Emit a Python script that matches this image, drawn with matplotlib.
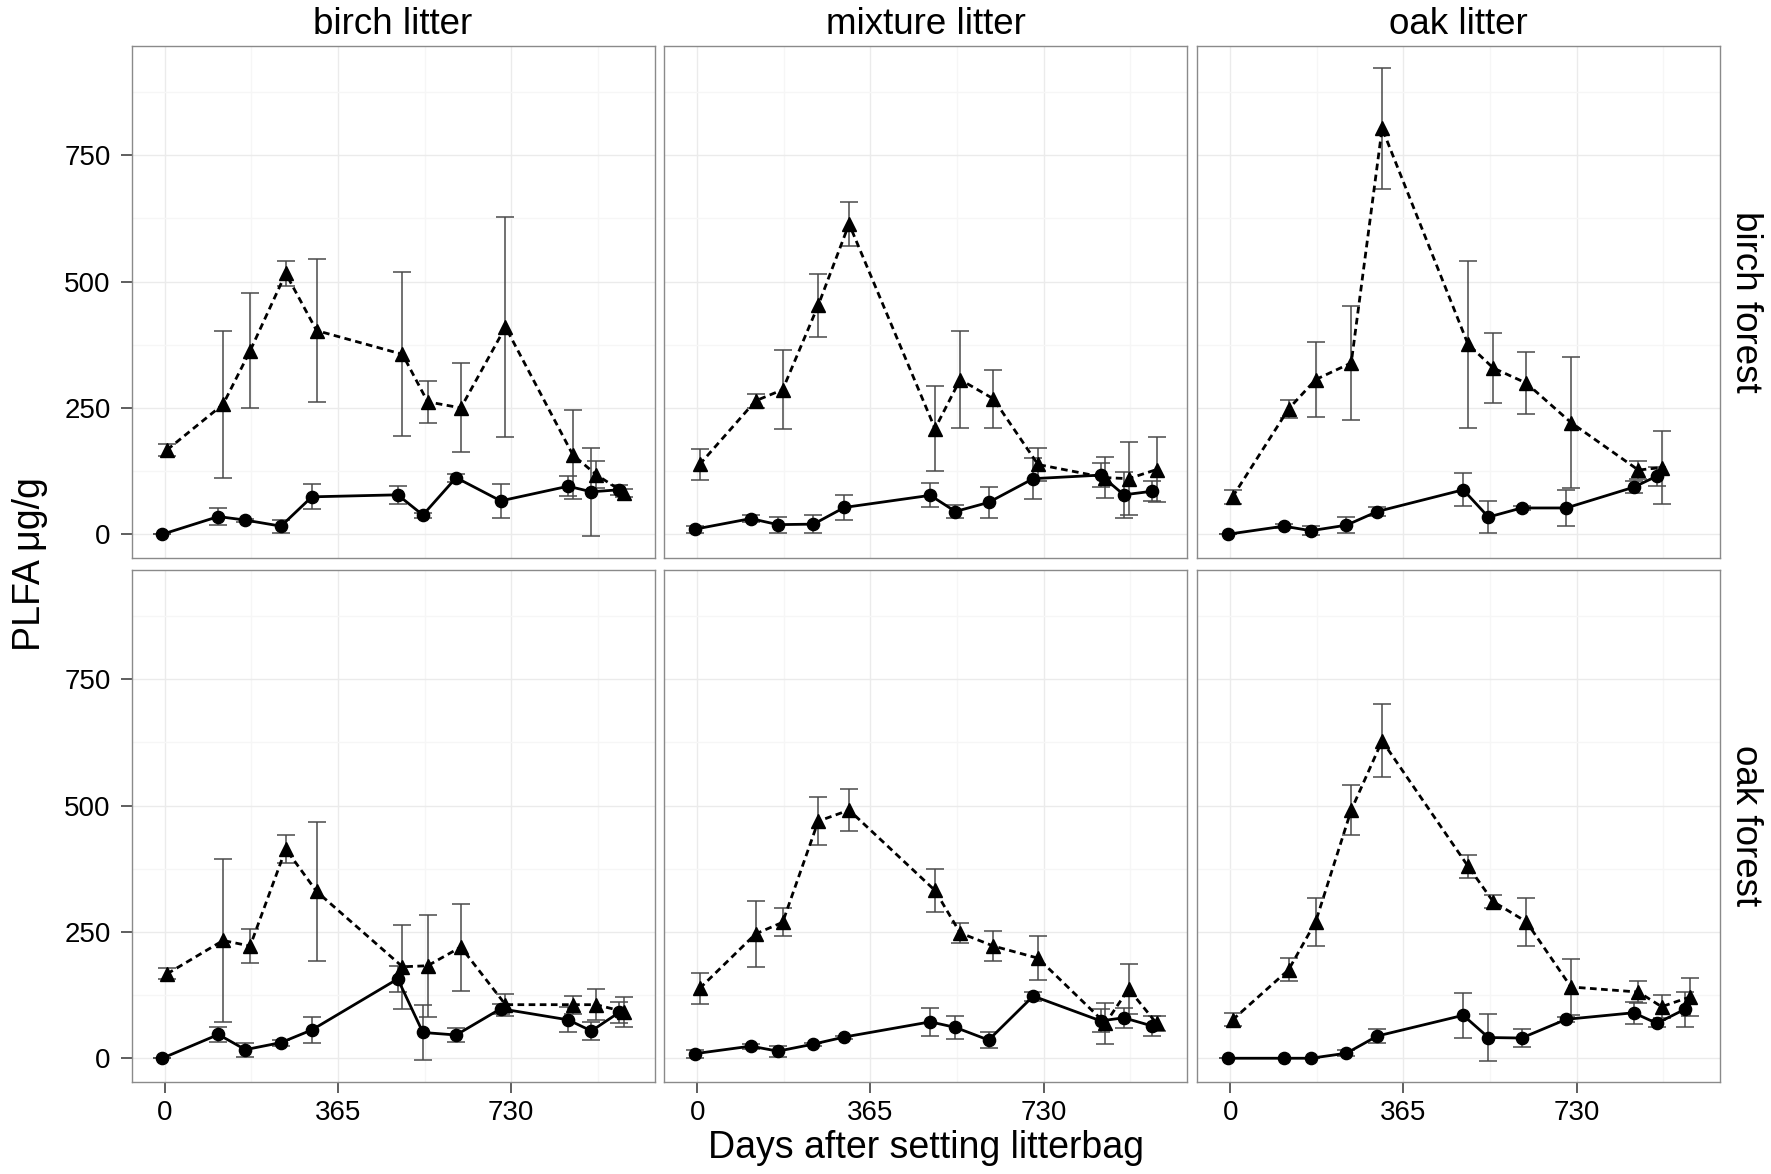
import numpy as np
import matplotlib.pyplot as plt

plt.rcParams["font.family"] = ["Liberation Sans", "DejaVu Sans"]

# sampling days (same for every panel, oak litter in birch forest misses the last one)
days = [0, 118, 175, 250, 315, 496, 549, 619, 713, 855, 904, 963]
litters = ["birch litter", "mixture litter", "oak litter"]
forests = ["birch forest", "oak forest"]

# birch forest, birch litter
bf_birch_circ = [0, 35, 28, 16, 74, 78, 38, 112, 66, 95, 84, 88]
bf_birch_circ_se = [0, 17, 3, 13, 25, 18, 5, 8, 34, 20, 87, 10]
bf_birch_tri = [167, 257, 363, 516, 403, 356, 262, 250, 410, 157, 118, 82]
bf_birch_tri_se = [12, 145, 114, 25, 141, 162, 42, 88, 217, 88, 27, 8]

# birch forest, mixture litter
bf_mix_circ = [10, 31, 19, 20, 53, 77, 45, 63, 110, 117, 78, 85]
bf_mix_circ_se = [7, 7, 16, 18, 25, 24, 13, 30, 40, 23, 45, 20]
bf_mix_tri = [138, 264, 286, 453, 614, 209, 306, 268, 138, 112, 110, 128]
bf_mix_tri_se = [30, 14, 78, 62, 44, 84, 96, 57, 32, 40, 72, 65]

# birch forest, oak litter
bf_oak_circ = [0, 16, 7, 18, 45, 88, 34, 52, 52, 93, 115]
bf_oak_circ_se = [0, 4, 9, 16, 9, 33, 31, 4, 36, 12, 19]
bf_oak_tri = [74, 248, 306, 339, 803, 376, 329, 299, 221, 127, 132]
bf_oak_tri_se = [14, 18, 74, 113, 120, 165, 70, 61, 129, 18, 73]

# oak forest, birch litter
of_birch_circ = [0, 47, 17, 31, 56, 157, 51, 46, 98, 76, 54, 91]
of_birch_circ_se = [0, 15, 14, 6, 25, 25, 55, 13, 10, 25, 17, 21]
of_birch_tri = [167, 233, 222, 414, 330, 181, 183, 220, 106, 106, 106, 92]
of_birch_tri_se = [11, 161, 33, 28, 137, 83, 101, 86, 22, 18, 31, 30]

# oak forest, mixture litter
of_mix_circ = [9, 24, 14, 28, 42, 72, 61, 36, 123, 74, 80, 64]
of_mix_circ_se = [8, 5, 11, 3, 3, 27, 23, 15, 9, 23, 20, 20]
of_mix_tri = [138, 246, 269, 469, 491, 332, 248, 222, 198, 69, 137, 69]
of_mix_tri_se = [30, 66, 28, 47, 42, 42, 20, 30, 44, 40, 50, 15]

# oak forest, oak litter
of_oak_circ = [0, 0, 0, 10, 44, 85, 41, 40, 77, 90, 69, 97]
of_oak_circ_se = [0, 0, 0, 6, 13, 44, 47, 17, 5, 22, 7, 35]
of_oak_tri = [76, 175, 270, 491, 628, 380, 310, 270, 141, 131, 102, 121]
of_oak_tri_se = [13, 23, 47, 50, 72, 23, 12, 48, 55, 22, 23, 38]

panels = [
    [(bf_birch_circ, bf_birch_circ_se, bf_birch_tri, bf_birch_tri_se),
     (bf_mix_circ, bf_mix_circ_se, bf_mix_tri, bf_mix_tri_se),
     (bf_oak_circ, bf_oak_circ_se, bf_oak_tri, bf_oak_tri_se)],
    [(of_birch_circ, of_birch_circ_se, of_birch_tri, of_birch_tri_se),
     (of_mix_circ, of_mix_circ_se, of_mix_tri, of_mix_tri_se),
     (of_oak_circ, of_oak_circ_se, of_oak_tri, of_oak_tri_se)],
]

W, H = 1771, 1174
fig = plt.figure(figsize=(W / 100, H / 100), dpi=100)

col_left = [131.5, 664, 1197]
row_top = [46, 570]
pw, ph = 523, 512
dodge = 5
err_col = "#4a4a4a"

for r in range(2):
    for c in range(3):
        ax = fig.add_axes([col_left[c] / W, 1 - (row_top[r] + ph) / H, pw / W, ph / H])
        circ, circ_se, tri, tri_se = panels[r][c]
        d = np.array(days[:len(circ)])

        ax.errorbar(d - dodge, circ, yerr=circ_se, fmt="none", ecolor=err_col,
                    elinewidth=1.1, capsize=6.7, capthick=1.1, zorder=2)
        ax.errorbar(d + dodge, tri, yerr=tri_se, fmt="none", ecolor=err_col,
                    elinewidth=1.1, capsize=6.7, capthick=1.1, zorder=2)
        ax.plot(d - dodge, circ, "-", color="black", lw=2, zorder=3)
        ax.plot(d + dodge, tri, color="black", lw=2, linestyle=(0, (2.4, 1.6)), zorder=3)
        ax.plot(d - dodge, circ, "o", color="black", ms=8.8, zorder=4)
        ax.plot(d + dodge, tri, "^", color="black", ms=10.5, zorder=4)

        ax.set_xlim(-70, 1032)
        ax.set_ylim(-47, 966)
        ax.set_xticks([0, 365, 730])
        ax.set_xticks([182.5, 547.5, 912.5], minor=True)
        ax.set_yticks([0, 250, 500, 750])
        ax.set_yticks([125, 375, 625, 875], minor=True)
        ax.grid(which="major", color="#EBEBEB", lw=1.0, zorder=0)
        ax.grid(which="minor", color="#F6F6F6", lw=1.0, zorder=0)
        ax.set_axisbelow(True)
        for sp in ax.spines.values():
            sp.set_color("#8A8A8A")
            sp.set_linewidth(1.0)

        ax.tick_params(which="minor", length=0)
        ax.tick_params(which="major", direction="out", length=8, width=1.1,
                       color="#333333", labelsize=20, labelcolor="black")
        ax.tick_params(axis="y", pad=7)
        ax.tick_params(axis="x", pad=5)
        if c > 0:
            ax.tick_params(axis="y", length=0, labelleft=False)
        if r == 0:
            ax.tick_params(axis="x", length=0, labelbottom=False)

        if r == 0:
            fig.text((col_left[c] + pw / 2) / W, 1 - 25 / H, litters[c],
                     ha="center", va="center", fontsize=26.5)
        if c == 2:
            fig.text(1745 / W, 1 - (row_top[r] + ph / 2) / H, forests[r],
                     ha="center", va="center", rotation=-90, fontsize=26.5)

fig.text((col_left[1] + pw / 2) / W, 1 - 1148 / H, "Days after setting litterbag",
         ha="center", va="center", fontsize=27)
fig.text(30 / W, 1 - 564 / H, "PLFA \u03bcg/g", ha="center", va="center",
         rotation=90, fontsize=27)

fig.savefig("out.png", dpi=100, facecolor="white")
